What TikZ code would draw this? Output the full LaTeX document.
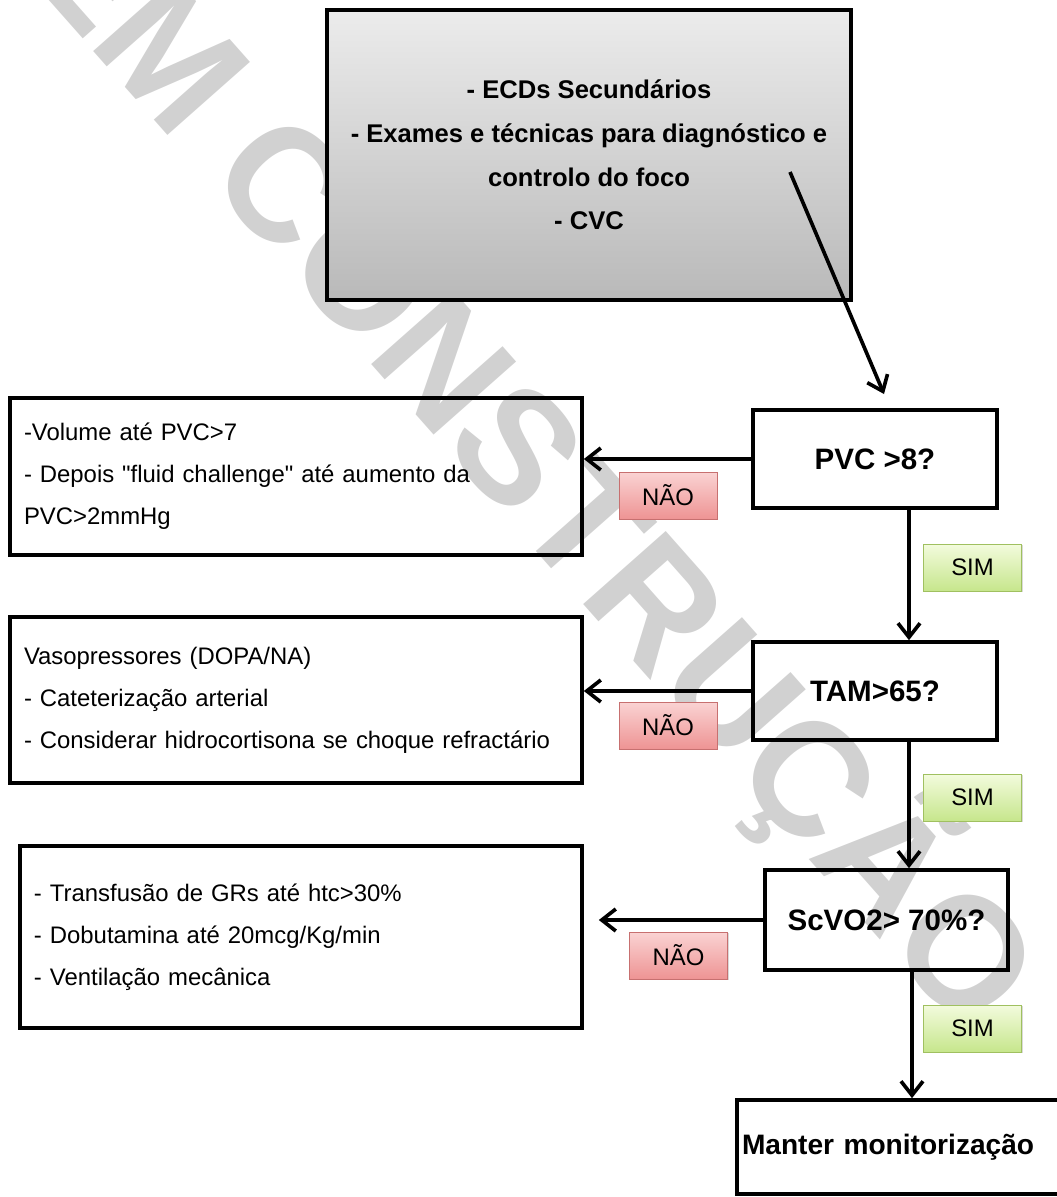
\documentclass[tikz,border=0pt]{standalone}
\usepackage{fontspec}
\setmainfont{Liberation Sans}
\usetikzlibrary{arrows.meta,shadows}

\definecolor{naotopo}{HTML}{FAD3D3}
\definecolor{naobase}{HTML}{EE9494}
\definecolor{naoborda}{HTML}{C77070}
\definecolor{simtopo}{HTML}{F3FBDD}
\definecolor{simbase}{HTML}{C6E68C}
\definecolor{simborda}{HTML}{A0C060}

\tikzset{
	caixa/.style={draw, line width=2.6pt, inner sep=0pt},
	topo/.style={caixa, top color=gray!15, bottom color=gray!55, minimum width=13.1cm, minimum height=7.25cm, align=center, font=\fontsize{18.2}{31}\selectfont\bfseries},
	decisao/.style={caixa, minimum width=6.1cm, minimum height=2.45cm, font=\fontsize{21}{24}\selectfont\bfseries},
	lista/.style={caixa, align=left, inner xsep=0.35cm, font=\fontsize{17}{29.8}\selectfont},
	etiqueta/.style={line width=0.7pt, minimum width=2.45cm, minimum height=1.175cm, font=\fontsize{17}{20}\selectfont, drop shadow={opacity=0.3, shadow xshift=0.8pt, shadow yshift=-0.8pt}},
	nao/.style={etiqueta, draw=naoborda, top color=naotopo, bottom color=naobase},
	sim/.style={etiqueta, draw=simborda, top color=simtopo, bottom color=simbase},
	seta/.style={line width=2.6pt, -{Straight Barb[length=3.5mm, width=5.5mm]}},
	marca/.style={rotate=-48.5, text=black!18, font=\fontsize{114}{120}\selectfont\bfseries}
}

\begin{document}
\begin{tikzpicture}
		\clip (0,0) rectangle (26.425,-29.925);
		% marca de agua
		\node[marca] (marca) at (13.3,-11.6) {EM CONSTRUÇÃO};

		% caixa inicial
		\node[topo] (ecd) at (14.725,-3.875) {- ECDs Secundários\\- Exames e técnicas para diagnóstico e\\controlo do foco\\- CVC};
		\coordinate (dini) at (19.75,-4.3);
		\coordinate (dfim) at (22.1,-9.85);
		\draw[seta] (dini) -- (dfim);

		% decisoes
		\node[decisao] (pvc) at (21.875,-11.475) {PVC >8?};
		\node[decisao] (tam) at (21.875,-17.275) {TAM>65?};
		\node[decisao, minimum width=6.075cm, minimum height=2.5cm] (scvo) at (22.1625,-23.0) {ScVO2> 70\%?};
		\node[caixa, text width=7.95cm, inner xsep=0.125cm, align=left, minimum height=2.35cm, font=\fontsize{20}{24}\selectfont\bfseries] (manter) at (22.525,-28.675) {Manter monitorização};

		% medidas
		\node[lista, text width=13.6cm, minimum height=3.925cm] (volume) at (7.4,-11.9125) {-Volume até PVC>7\\- Depois \textquotedbl fluid challenge\textquotedbl{} até aumento da\\PVC>2mmHg};
		\node[lista, text width=13.6cm, minimum height=4.15cm] (vaso) at (7.4,-17.5) {Vasopressores (DOPA/NA)\\- Cateterização arterial\\- Considerar hidrocortisona se choque refractário};
		\node[lista, text width=13.35cm, minimum height=4.55cm] (transf) at (7.525,-23.425) {- Transfusão de GRs até htc>30\%\\- Dobutamina até 20mcg/Kg/min\\- Ventilação mecânica};

		% ramos NAO
		\draw[seta] (pvc.west) -- (pvc.west -| volume.east);
		\draw[seta] (tam.west) -- (tam.west -| vaso.east);
		\path (scvo.west -| transf.east) ++(0.375,0) coordinate (ptransf);
		\draw[seta] (scvo.west) -- (ptransf);

		% ramos SIM
		\coordinate (v1) at ([xshift=0.85cm]pvc.south);
		\coordinate (v2) at ([xshift=0.85cm]tam.south);
		\coordinate (v3) at ([xshift=0.6375cm]scvo.south);
		\draw[seta] (v1) -- (v1 |- tam.north);
		\draw[seta] (v2) -- (v2 |- scvo.north);
		\draw[seta] (v3) -- (v3 |- manter.north);

		% etiquetas
		\node[nao] (nao1) at (16.7,-12.3875) {NÃO};
		\node[nao] (nao2) at (16.7,-18.1375) {NÃO};
		\node[nao] (nao3) at (16.9625,-23.8875) {NÃO};
		\node[sim] (sim1) at (24.3125,-14.1875) {SIM};
		\node[sim] (sim2) at (24.3125,-19.9375) {SIM};
		\node[sim] (sim3) at (24.3125,-25.7125) {SIM};
\end{tikzpicture}
\end{document}
